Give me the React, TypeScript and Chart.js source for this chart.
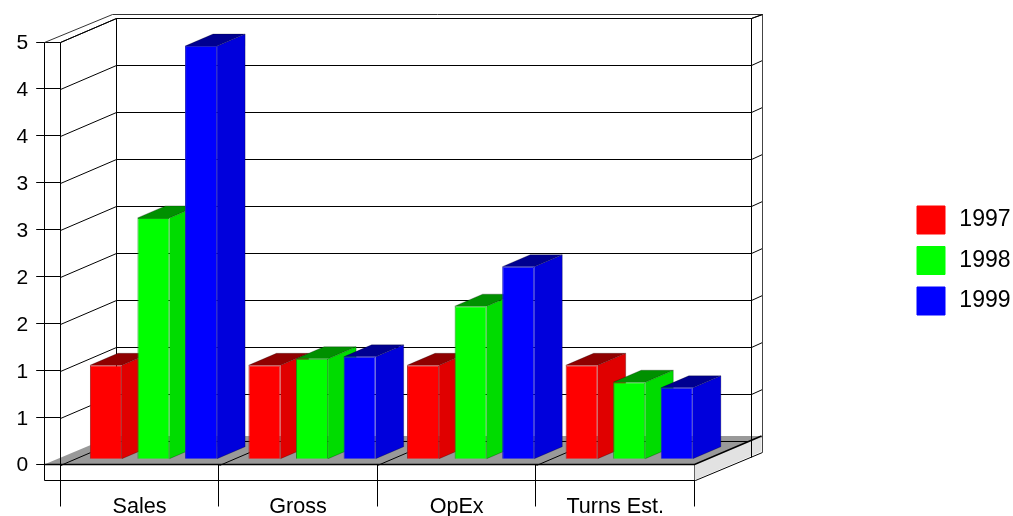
import React, { useEffect, useRef } from "react";
import { Chart, registerables } from "chart.js";

Chart.register(...registerables);

const categories = ["Sales", "Gross", "OpEx", "Turns Est."];
const series1997 = [1.0, 1.0, 1.0, 1.0];
const series1998 = [2.57, 1.07, 1.63, 0.82];
const series1999 = [4.4, 1.09, 2.05, 0.76];
const yTicks = [0, 0.5, 1, 1.5, 2, 2.5, 3, 3.5, 4, 4.5];

const FONT = "'Liberation Sans', Arial, sans-serif";
const INK = "#000000";

// Depth of the box, of the bars inside it, and of the outer shell.
const BOX = { dx: 56, dy: -24 };
const BAR = { dx: 28, dy: -12 };
const BAR_INSET = { dx: 14, dy: -5.3 };
const SHELL_LEFT = 16;
const SHELL_RIGHT = { dx: 67, dy: -28.5 };
const SHELL_DROP = 15.5;

const faceColours = [
  { front: "#ff0000", side: "#e00000", top: "#900000", edge: "#a82020" },
  { front: "#00ff00", side: "#00dc00", top: "#009000", edge: "#109a10" },
  { front: "#0000ff", side: "#0000dc", top: "#000090", edge: "#2020c0" },
];

// Hairlines sit on pixel centres so that they stay crisp.
const snap = (v: number) => Math.round(v) + 0.5;

function poly(ctx: CanvasRenderingContext2D, pts: number[][], fill?: string, stroke?: string) {
  ctx.beginPath();
  pts.forEach(([x, y], i) => {
    const px = fill ? x : snap(x);
    const py = fill ? y : snap(y);
    if (i) ctx.lineTo(px, py);
    else ctx.moveTo(px, py);
  });
  if (fill) {
    ctx.closePath();
    ctx.fillStyle = fill;
    ctx.fill();
  }
  if (stroke) {
    ctx.strokeStyle = stroke;
    ctx.lineWidth = 1;
    ctx.stroke();
  }
}

const boxPlugin = {
  id: "box3d",
  afterLayout(chart: any) {
    // The legend sits far to the right of the plot, centred on its own band.
    const lg = chart.legend;
    const pad = lg.options.labels.padding;
    lg.left = 917 - pad;
    lg.right = 1010.5;
    lg.top -= 18.5;
    lg.bottom -= 18.5;
  },
  beforeDatasetsDraw(chart: any) {
    const { ctx, chartArea: a, scales } = chart;
    const L = a.left;
    const R = a.right;
    const T = a.top;
    const B = scales.y.getPixelForValue(0);
    const shellL = L - SHELL_LEFT;

    ctx.save();
    // Back wall with its gridlines and the diagonals on both side walls.
    yTicks.forEach((v) => {
      const y = scales.y.getPixelForValue(v);
      poly(ctx, [[L, y], [L + BOX.dx, y + BOX.dy], [R + BOX.dx, y + BOX.dy], [R + SHELL_RIGHT.dx, y + SHELL_RIGHT.dy]], undefined, INK);
    });
    poly(ctx, [[L + BOX.dx, T + BOX.dy], [L + BOX.dx, B + BOX.dy]], undefined, INK);

    // Floor.
    poly(ctx, [[shellL, B], [shellL + 68, B + SHELL_RIGHT.dy], [R + SHELL_RIGHT.dx, B + SHELL_RIGHT.dy], [R, B]], "#999999");
    poly(ctx, [[L, B], [L + BOX.dx, B + BOX.dy], [R + BOX.dx, B + BOX.dy]], undefined, INK);
    const xScale = scales.x;
    categories.forEach((_, i) => {
      if (i === 0) return;
      const x = (xScale.getPixelForValue(i - 1) + xScale.getPixelForValue(i)) / 2;
      poly(ctx, [[x, B], [x + BOX.dx, B + BOX.dy]], undefined, INK);
    });

    // Right-hand plinth.
    poly(ctx, [[R, B], [R + SHELL_RIGHT.dx, B + SHELL_RIGHT.dy], [R + SHELL_RIGHT.dx, B + SHELL_RIGHT.dy + SHELL_DROP], [R, B + SHELL_DROP]], "#e2e2e2");
    poly(ctx, [[R, B + SHELL_DROP], [R + SHELL_RIGHT.dx, B + SHELL_RIGHT.dy + SHELL_DROP]], undefined, INK);
    poly(ctx, [[R + BOX.dx, T + BOX.dy], [R + BOX.dx, B + BOX.dy + SHELL_DROP + 1]], undefined, INK);
    poly(ctx, [[R + SHELL_RIGHT.dx, T + SHELL_RIGHT.dy], [R + SHELL_RIGHT.dx, B + SHELL_RIGHT.dy + SHELL_DROP]], undefined, "#444444");

    // Front edges of the box and the shell.
    poly(ctx, [[L, T], [L, B + SHELL_DROP]], undefined, INK);
    poly(ctx, [[shellL, T], [shellL, B + SHELL_DROP], [R, B + SHELL_DROP]], undefined, INK);
    poly(ctx, [[shellL, T], [L, T]], undefined, INK);
    poly(ctx, [[shellL, T], [shellL + 68, T + SHELL_RIGHT.dy], [R + SHELL_RIGHT.dx, T + SHELL_RIGHT.dy]], undefined, "#333333");
    poly(ctx, [[L, T], [L + BOX.dx, T + BOX.dy], [R + BOX.dx, T + BOX.dy], [R + SHELL_RIGHT.dx, T + SHELL_RIGHT.dy]], undefined, INK);

    // Heavy front sill.
    ctx.lineWidth = 1.6;
    ctx.strokeStyle = "#000000";
    ctx.beginPath();
    ctx.moveTo(shellL, B);
    ctx.lineTo(R, B);
    ctx.lineTo(R + SHELL_RIGHT.dx, B + SHELL_RIGHT.dy);
    ctx.stroke();
    ctx.restore();

    // Everything drawn by the bar elements sits inside the box.
    ctx.save();
    ctx.translate(BAR_INSET.dx, BAR_INSET.dy);

    // Receding faces go down first, left to right, so the front faces cover them.
    chart.data.datasets.forEach((_: any, index: number) => {
      const colours = faceColours[index];
      chart.getDatasetMeta(index).data.forEach((el: any) => {
        const { x, y, base, width } = el.getProps(["x", "y", "base", "width"], true);
        const l = x - width / 2;
        const r = x + width / 2;
        poly(ctx, [[r, y], [r + BAR.dx, y + BAR.dy], [r + BAR.dx, base + BAR.dy], [r, base]], colours.side);
        poly(ctx, [[l, y], [l + BAR.dx, y + BAR.dy], [r + BAR.dx, y + BAR.dy], [r, y]], colours.top);
        ctx.strokeStyle = "rgba(0,0,0,0.25)";
        ctx.lineWidth = 1;
        ctx.beginPath();
        ctx.moveTo(r, base);
        ctx.lineTo(r + BAR.dx, base + BAR.dy);
        ctx.lineTo(r + BAR.dx, y + BAR.dy);
        ctx.lineTo(l + BAR.dx, y + BAR.dy);
        ctx.lineTo(l, y);
        ctx.moveTo(r, y);
        ctx.lineTo(r + BAR.dx, y + BAR.dy);
        ctx.stroke();
      });
    });
  },
  afterDatasetsDraw(chart: any) {
    chart.ctx.restore();
  },
};

export default function App() {
  const ref = useRef<HTMLCanvasElement>(null);

  useEffect(() => {
    const chart = new Chart(ref.current as HTMLCanvasElement, {
      type: "bar",
      data: {
        labels: categories,
        datasets: [
          { label: "1997", data: series1997, backgroundColor: faceColours[0].front, borderColor: faceColours[0].edge, borderWidth: 1 },
          { label: "1998", data: series1998, backgroundColor: faceColours[1].front, borderColor: faceColours[1].edge, borderWidth: 1 },
          { label: "1999", data: series1999, backgroundColor: faceColours[2].front, borderColor: faceColours[2].edge, borderWidth: 1 },
        ],
      },
      options: {
        responsive: false,
        animation: false,
        datasets: { bar: { categoryPercentage: 0.9, barPercentage: 0.674, clip: false } },
        layout: { padding: { top: 42, right: 205.3, bottom: 0, left: 0 } },
        font: { family: FONT },
        scales: {
          x: {
            offset: true,
            afterFit(scale: any) {
              scale.height = 51.5;
            },
            border: { display: false },
            grid: { drawOnChartArea: false, drawTicks: true, tickLength: 42, color: INK, offset: true },
            ticks: { padding: -12.5, color: "#000000", font: { family: FONT, size: 21.6 }, maxRotation: 0, autoSkip: false },
          },
          y: {
            min: 0,
            max: 4.5,
            afterFit(scale: any) {
              scale.width = 60.2;
            },
            afterBuildTicks(scale: any) {
              scale.ticks = yTicks.map((value) => ({ value }));
            },
            border: { display: false },
            grid: { drawOnChartArea: false, drawTicks: true, tickLength: 24, color: INK },
            ticks: {
              padding: 8,
              labelOffset: 1.2,
              color: "#000000",
              font: { family: FONT, size: 21 },
              autoSkip: false,
              callback: (v: any) => String(Math.round(Number(v))),
            },
          },
        },
        plugins: {
          title: { display: false },
          tooltip: { enabled: false },
          legend: {
            position: "right",
            labels: {
              boxWidth: 28,
              boxHeight: 28,
              padding: 12.5,
              color: "#000000",
              textAlign: "right",
              font: { family: FONT, size: 23 },
              generateLabels: (c: any) =>
                Chart.defaults.plugins.legend.labels
                  .generateLabels(c)
                  .map((item: any) => ({ ...item, strokeStyle: item.fillStyle })),
            },
          },
        },
      } as any,
      plugins: [boxPlugin],
    });
    return () => chart.destroy();
  }, []);

  return (
    <canvas
      ref={ref}
      width={1013}
      height={516}
      style={{ position: "absolute", left: 0, top: 0, display: "block" }}
    />
  );
}
